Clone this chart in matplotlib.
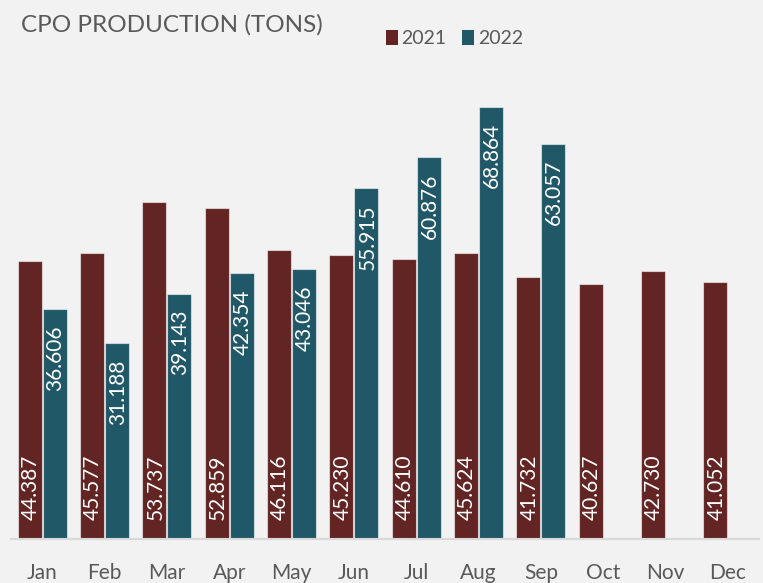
import matplotlib
matplotlib.use("Agg")
import matplotlib.pyplot as plt
from matplotlib.patches import Patch
import numpy as np

months = ["Jan", "Feb", "Mar", "Apr", "May", "Jun", "Jul", "Aug", "Sep", "Oct", "Nov", "Dec"]
prod_2021 = [44.387, 45.577, 53.737, 52.859, 46.116, 45.230, 44.610, 45.624, 41.732, 40.627, 42.730, 41.052]
prod_2022 = [36.606, 31.188, 39.143, 42.354, 43.046, 55.915, 60.876, 68.864, 63.057]
series_names = ["2021", "2022"]
title = "CPO PRODUCTION (TONS)"

C21 = "#632523"
C22 = "#215868"
BG = "#f2f2f2"
TXT = "#595959"
FONT = ["Lato", "DejaVu Sans"]

W, H = 763, 583
fig = plt.figure(figsize=(W / 100, H / 100), dpi=100, facecolor=BG)
ax_left, ax_right = 11 / W, 759 / W
ax_bottom = (H - 539) / H
ymax = 75.0
ax_top_px = 539 - ymax * 6.27
ax = fig.add_axes([ax_left, ax_bottom, ax_right - ax_left, (539 - ax_top_px) / H])
ax.set_facecolor(BG)

x = np.arange(len(months))
bw = 0.385
edge = (1, 1, 1, 0.55)
ax.bar(x - 0.2, prod_2021, width=bw, color=C21, edgecolor=edge, linewidth=0.8, zorder=2)
x22 = x[:len(prod_2022)]
ax.bar(x22 + 0.2, prod_2022, width=bw, color=C22, edgecolor=edge, linewidth=0.8, zorder=2)

for xi, v in zip(x, prod_2021):
    ax.annotate(f"{v:.3f}", xy=(xi - 0.2, 0), xytext=(1, 19), textcoords="offset pixels",
                rotation=90, ha="center", va="bottom", color="white", fontsize=15, family=FONT, zorder=3)
for xi, v in zip(x22, prod_2022):
    ax.annotate(f"{v:.3f}", xy=(xi + 0.2, v), xytext=(1, -16), textcoords="offset pixels",
                rotation=90, ha="center", va="top", color="white", fontsize=15, family=FONT, zorder=3)

ax.set_xlim(-0.5, len(months) - 0.5)
ax.set_ylim(0, ymax)
ax.set_xticks(x)
ax.set_xticklabels(months, fontsize=15, color=TXT, family=FONT)
ax.tick_params(axis="x", length=0, pad=17)
ax.set_yticks([])
for s in ["top", "right", "left"]:
    ax.spines[s].set_visible(False)
ax.spines["bottom"].set_color("#d9d9d9")
ax.spines["bottom"].set_linewidth(1.5)

fig.text(21 / W, 1 - 14 / H, title, ha="left", va="top", fontsize=17.5,
         color=TXT, family=FONT)

handles = [Patch(facecolor=C21, edgecolor="none"), Patch(facecolor=C22, edgecolor="none")]
leg = fig.legend(handles, series_names, loc="upper left", bbox_to_anchor=(386 / W, 1 - 30 / H),
                 ncol=2, frameon=False, handlelength=0.6, handleheight=0.8,
                 handletextpad=0.2, columnspacing=0.8, borderaxespad=0, borderpad=0,
                 prop={"family": FONT, "size": 14})
for t in leg.get_texts():
    t.set_color(TXT)

fig.savefig("out.png", dpi=100, facecolor=BG)
